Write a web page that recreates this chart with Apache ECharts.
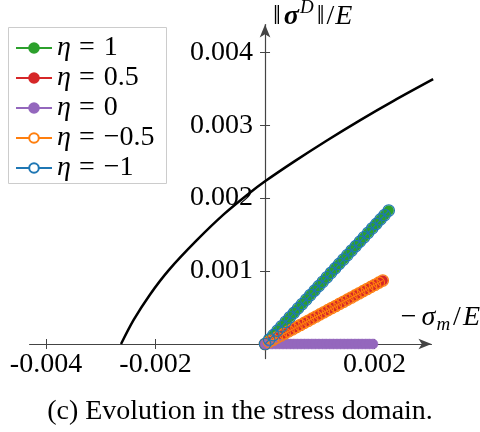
<!DOCTYPE html>
<html>
<head>
<meta charset="utf-8">
<script src="https://cdn.jsdelivr.net/npm/echarts@6/dist/echarts.min.js"></script>
<style>
html, body { margin: 0; padding: 0; background: #fff; }
#main { width: 480px; height: 432px; }
</style>
</head>
<body>
<div id="main"></div>
<script>
// all stresses in units of 1e-3 (normalised by E)
var etaNames = ['1', '0.5', '0', '−0.5', '−1'];
var colors = ['#2ca02c', '#d62728', '#9467bd', '#ff7f0e', '#1f77b4'];

// eta = 1 and eta = -1 (they coincide)
var pathX1 = [0, 0.075, 0.151, 0.226, 0.301, 0.377, 0.452, 0.527, 0.602, 0.678, 0.753, 0.828, 0.904, 0.979, 1.054, 1.130,
    1.205, 1.280, 1.355, 1.431, 1.506, 1.581, 1.657, 1.732, 1.807, 1.883, 1.958, 2.033, 2.108, 2.184, 2.259];
var pathY1 = [0, 0.061, 0.122, 0.183, 0.244, 0.305, 0.366, 0.427, 0.488, 0.549, 0.610, 0.671, 0.732, 0.793, 0.854, 0.915,
    0.976, 1.037, 1.098, 1.159, 1.220, 1.281, 1.342, 1.403, 1.464, 1.525, 1.586, 1.647, 1.708, 1.769, 1.830];
// eta = 0.5 and eta = -0.5
var pathX05 = [0, 0.072, 0.143, 0.215, 0.287, 0.358, 0.430, 0.502, 0.573, 0.645, 0.717, 0.788, 0.860, 0.932, 1.003, 1.075,
    1.147, 1.218, 1.290, 1.362, 1.433, 1.505, 1.577, 1.648, 1.720, 1.792, 1.863, 1.935, 2.007, 2.078, 2.150];
var pathY05 = [0, 0.029, 0.058, 0.087, 0.116, 0.145, 0.174, 0.203, 0.232, 0.261, 0.290, 0.319, 0.348, 0.377, 0.406, 0.435,
    0.464, 0.493, 0.522, 0.551, 0.580, 0.609, 0.638, 0.667, 0.696, 0.725, 0.754, 0.783, 0.812, 0.841, 0.870];
// eta = 0
var pathX0 = [0, 0.066, 0.131, 0.197, 0.263, 0.328, 0.394, 0.460, 0.525, 0.591, 0.657, 0.722, 0.788, 0.854, 0.919, 0.985,
    1.051, 1.116, 1.182, 1.248, 1.313, 1.379, 1.445, 1.510, 1.576, 1.642, 1.707, 1.773, 1.839, 1.904, 1.970];
var pathY0 = [0, 0, 0, 0, 0, 0, 0, 0, 0, 0, 0, 0, 0, 0, 0, 0, 0, 0, 0, 0, 0, 0, 0, 0, 0, 0, 0, 0, 0, 0, 0];

// yield surface
var surfX = [-2.63, -2.40, -2.10, -1.75, -1.25, -0.75, -0.30, 0, 0.55, 1.13, 1.74, 2.34, 3.07];
var surfY = [0, 0.33, 0.68, 1.02, 1.42, 1.78, 2.06, 2.23, 2.51, 2.79, 3.07, 3.33, 3.63];

var xTicks = [-4, -2, 2];
var xTickLabels = ['-0.004', '-0.002', '0.002'];
var yTicks = [1, 2, 3, 4];
var yTickLabels = ['0.001', '0.002', '0.003', '0.004'];

var FONT = 'Liberation Serif';
var FS = 28;

var X_MIN = -4.3, X_MAX = 3.04, Y_MIN = -0.2, Y_MAX = 4.38;
var GRID = { left: 29.6, top: 24.5, width: 401.9, height: 334.1 };
// onZero keeps labels at the grid edge, so pull them back to the zero lines
var xZeroFromLeft = (0 - X_MIN) / (X_MAX - X_MIN) * GRID.width;
var yZeroFromBottom = (0 - Y_MIN) / (Y_MAX - Y_MIN) * GRID.height;

function zip(xs, ys) {
    return xs.map(function (x, i) { return [x, ys[i]]; });
}

var pathsX = [pathX1, pathX05, pathX0, pathX05, pathX1];
var pathsY = [pathY1, pathY05, pathY0, pathY05, pathY1];

var myChart = echarts.init(document.getElementById('main'));

var axisColor = '#444';

function baseXAxis(pos) {
    var main = pos === 'bottom';
    return {
        type: 'value', min: X_MIN, max: X_MAX, position: pos,
        splitLine: { show: false },
        axisLine: {
            onZero: true, onZeroAxisIndex: 0,
            symbol: main ? ['none', 'arrow'] : 'none',
            symbolSize: [8, 13],
            lineStyle: { color: axisColor, width: 1.2, opacity: main ? 1 : 0 }
        },
        axisTick: { customValues: xTicks, length: 5, lineStyle: { color: axisColor, width: 1 } },
        axisLabel: {
            show: main, customValues: xTicks, margin: 7 - yZeroFromBottom,
            fontFamily: FONT, fontSize: FS, color: '#000',
            formatter: function (v) { return xTickLabels[xTicks.indexOf(v)] || ''; }
        }
    };
}
function baseYAxis(pos) {
    var main = pos === 'left';
    return {
        type: 'value', min: Y_MIN, max: Y_MAX, position: pos,
        splitLine: { show: false },
        axisLine: {
            onZero: true, onZeroAxisIndex: 0,
            symbol: main ? ['none', 'arrow'] : 'none',
            symbolSize: [8, 13],
            lineStyle: { color: axisColor, width: 1.2, opacity: main ? 1 : 0 }
        },
        axisTick: { customValues: yTicks, length: 5, lineStyle: { color: axisColor, width: 1 } },
        axisLabel: {
            show: main, customValues: yTicks, margin: 12 - xZeroFromLeft,
            fontFamily: FONT, fontSize: FS, color: '#000',
            formatter: function (v) { return yTickLabels[yTicks.indexOf(v)] || ''; }
        }
    };
}

var series = [{
    name: 'surface',
    type: 'line',
    data: zip(surfX, surfY),
    showSymbol: false,
    smooth: 0.3,
    clip: false,
    lineStyle: { color: '#000', width: 2.5 },
    z: 1
}];
etaNames.forEach(function (n, i) {
    var hollow = i >= 3;
    series.push({
        name: n,
        type: 'line',
        data: zip(pathsX[i], pathsY[i]),
        symbol: 'circle',
        symbolSize: hollow ? 11.5 : 10,
        showAllSymbol: true,
        lineStyle: { color: colors[i], width: 1.2 },
        itemStyle: hollow
            ? { color: 'rgba(255,255,255,0)', borderColor: colors[i], borderWidth: 1.1 }
            : { color: colors[i], borderColor: colors[i], borderWidth: 0.5 },
        z: 2 + i
    });
});

function rich(size, extra) {
    var o = { fontFamily: FONT, fontSize: size, fill: '#000', color: '#000' };
    for (var k in extra) o[k] = extra[k];
    return o;
}

// one legend per entry so the rows sit exactly 30px apart, inside one framed box
var legends = etaNames.map(function (n, i) {
    return {
        orient: 'vertical',
        left: 15, top: 34 + 30 * i,
        padding: 0,
        itemWidth: 36, itemHeight: 12,
        selectedMode: false,
        z: 5,
        data: [i >= 3 ? { name: n, itemStyle: { color: '#fff' } } : { name: n }],
        formatter: function (name) { return '{i|η}{e|=}{n|' + name + '}'; },
        textStyle: {
            fontFamily: FONT, fontSize: FS, color: '#000', lineHeight: 26,
            rich: {
                i: rich(FS, { fontStyle: 'italic', lineHeight: 26 }),
                e: rich(FS, { padding: [0, 8], lineHeight: 26 }),
                n: rich(FS, { lineHeight: 26, padding: [0, 0, 0, 1] })
            }
        }
    };
});

option = {
    animation: false,
    grid: { left: GRID.left, top: GRID.top, width: GRID.width, height: GRID.height, outerBoundsMode: 'none', containLabel: false },
    xAxis: [baseXAxis('bottom'), baseXAxis('top')],
    yAxis: [baseYAxis('left'), baseYAxis('right')],
    legend: legends,
    title: {
        text: '(c) Evolution in the stress domain.',
        left: 'center', top: 393,
        textStyle: { fontFamily: FONT, fontSize: FS, fontWeight: 'normal', color: '#000' }
    },
    graphic: [{
        type: 'rect', z: 3,
        shape: { x: 8.5, y: 27.5, width: 158, height: 156 },
        style: { fill: '#fff', stroke: '#cccccc', lineWidth: 1 }
    }, {
        type: 'text', left: 272, top: -2,
        style: {
            text: '{n|‖}{s|σ}{sup|D}{n|‖}{n|/}{i|E}',
            lineHeight: 38,
            rich: {
                n: rich(FS, { padding: [0, 1] }),
                s: rich(FS, { fontStyle: 'italic', fontWeight: 'bold', padding: [0, 1, 0, 2] }),
                sup: rich(19, { fontStyle: 'italic', verticalAlign: 'top', padding: [0, 2, 0, 0] }),
                i: rich(FS, { fontStyle: 'italic' })
            }
        }
    }, {
        type: 'text', right: 0, top: 300.5,
        style: {
            text: '{m|−}{s|σ}{sub|m}{n|/}{i|E}',
            lineHeight: 34,
            rich: {
                m: rich(FS, { padding: [0, 5, 0, 0] }),
                n: rich(FS, { padding: [0, 2] }),
                s: rich(FS, { fontStyle: 'italic' }),
                sub: rich(19, { fontStyle: 'italic', verticalAlign: 'bottom', padding: [0, 1, 0, 1] }),
                i: rich(FS, { fontStyle: 'italic' })
            }
        }
    }],
    series: series
};

myChart.setOption(option);
</script>
</body>
</html>
